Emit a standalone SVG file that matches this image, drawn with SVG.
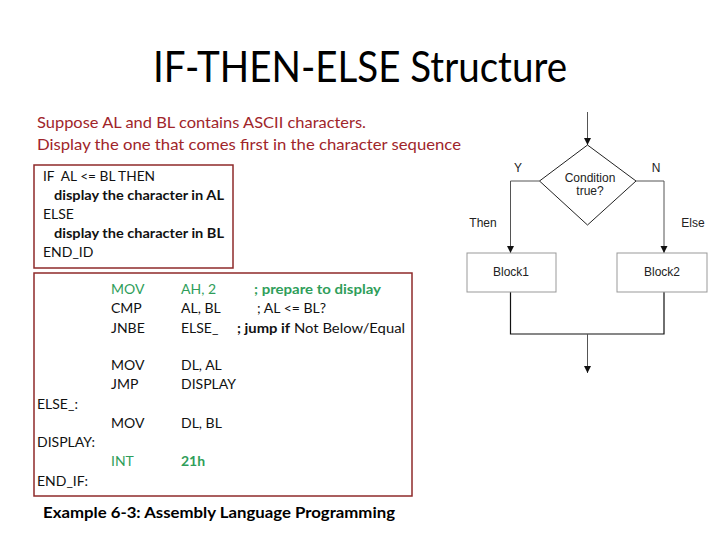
<svg xmlns="http://www.w3.org/2000/svg" width="720" height="540" viewBox="0 0 720 540">
<style>
.t{font-family:Lato,"Open Sans","Liberation Sans",sans-serif;white-space:pre}
.c{font-size:14px;fill:#111}
.g{fill:#2f9e5a}
.b{font-weight:bold}
.f{font-family:"Liberation Sans",Arial,sans-serif;font-size:12px;fill:#222}
.box{fill:none;stroke:#8e2a2a;stroke-width:1.5}
.ln{fill:none;stroke:#555;stroke-width:1}
</style>
<defs>
<marker id="ah" markerUnits="userSpaceOnUse" markerWidth="8" markerHeight="9" refX="7" refY="3.5" orient="auto">
<path d="M0,0 L7,3.5 L0,7 Z" fill="#111"/>
</marker>
</defs>
<rect width="720" height="540" fill="#fff"/>
<g id="title"><text class="t" x="153" y="82" font-size="42" fill="#000" textLength="414" lengthAdjust="spacingAndGlyphs">IF-THEN-ELSE Structure</text></g>
<g id="intro" fill="#a0252a">
<text class="t" x="37" y="128" font-size="16" fill="#a0252a" textLength="329" lengthAdjust="spacingAndGlyphs">Suppose AL and BL contains ASCII characters.</text>
<text class="t" x="37" y="150" font-size="16" fill="#a0252a" textLength="424" lengthAdjust="spacingAndGlyphs">Display the one that comes first in the character sequence</text>
</g>
<g id="pseudocode">
<rect class="box" x="34" y="165" width="199" height="103"/>
<text class="t c" x="43" y="181" textLength="112" lengthAdjust="spacingAndGlyphs">IF  AL &lt;= BL THEN</text>
<text class="t c b" x="54" y="200" textLength="170" lengthAdjust="spacingAndGlyphs">display the character in AL</text>
<text class="t c" x="43" y="219">ELSE</text>
<text class="t c b" x="54" y="238" textLength="170" lengthAdjust="spacingAndGlyphs">display the character in BL</text>
<text class="t c" x="43" y="257">END_ID</text>
</g>
<g id="assembly">
<rect class="box" x="34" y="273" width="378" height="223"/>
<text class="t c g" x="111" y="294">MOV</text>
<text class="t c g" x="181" y="294">AH, 2</text>
<text class="t c g b" x="254" y="294" textLength="127" lengthAdjust="spacingAndGlyphs">; prepare to display</text>
<text class="t c" x="111" y="313">CMP</text>
<text class="t c" x="181" y="313">AL, BL</text>
<text class="t c" x="257" y="313" textLength="69" lengthAdjust="spacingAndGlyphs">; AL &lt;= BL?</text>
<text class="t c" x="111" y="333">JNBE</text>
<text class="t c" x="181" y="333">ELSE_</text>
<text class="t c" x="237" y="333" textLength="168" lengthAdjust="spacingAndGlyphs"><tspan class="b">; jump if</tspan> Not Below/Equal</text>
<text class="t c" x="111" y="370">MOV</text>
<text class="t c" x="181" y="370">DL, AL</text>
<text class="t c" x="111" y="389">JMP</text>
<text class="t c" x="181" y="389">DISPLAY</text>
<text class="t c" x="37" y="409">ELSE_:</text>
<text class="t c" x="111" y="428">MOV</text>
<text class="t c" x="181" y="428">DL, BL</text>
<text class="t c" x="37" y="447">DISPLAY:</text>
<text class="t c g" x="111" y="466">INT</text>
<text class="t c g b" x="181" y="466">21h</text>
<text class="t c" x="37" y="486">END_IF:</text>
</g>
<g id="caption"><text class="t b" x="43" y="518" font-size="16" fill="#000" textLength="352" lengthAdjust="spacingAndGlyphs">Example 6-3: Assembly Language Programming</text></g>
<g id="connectors">
<line class="ln" x1="587.5" y1="112" x2="587.5" y2="145" stroke="#222" marker-end="url(#ah)"/>
<polyline class="ln" points="539.5,181 510.5,181 510.5,253" marker-end="url(#ah)"/>
<polyline class="ln" points="636,181 664,181 664,253" marker-end="url(#ah)"/>
<polyline points="510.5,292 510.5,334 664,334 664,292" fill="none" stroke="#111" stroke-width="1.2"/>
<line class="ln" x1="587.5" y1="334" x2="587.5" y2="373" marker-end="url(#ah)"/>
</g>
<g id="condition">
<polygon points="587.5,145 636,181 587.5,225 539.5,181" fill="#fff" stroke="#222" stroke-width="1"/>
<text class="f" x="590" y="182" text-anchor="middle">Condition</text>
<text class="f" x="590" y="195" text-anchor="middle">true?</text>
</g>
<g id="block1">
<rect x="467" y="253" width="89" height="39" fill="#fff" stroke="#999"/>
<text class="f" x="511" y="276" text-anchor="middle">Block1</text>
</g>
<g id="block2">
<rect x="617" y="253" width="90" height="39" fill="#fff" stroke="#999"/>
<text class="f" x="662" y="276" text-anchor="middle">Block2</text>
</g>
<g id="labels">
<text class="f" x="518" y="172" text-anchor="middle">Y</text>
<text class="f" x="656" y="172" text-anchor="middle">N</text>
<text class="f" x="483" y="227" text-anchor="middle">Then</text>
<text class="f" x="693" y="227" text-anchor="middle">Else</text>
</g>
</svg>
